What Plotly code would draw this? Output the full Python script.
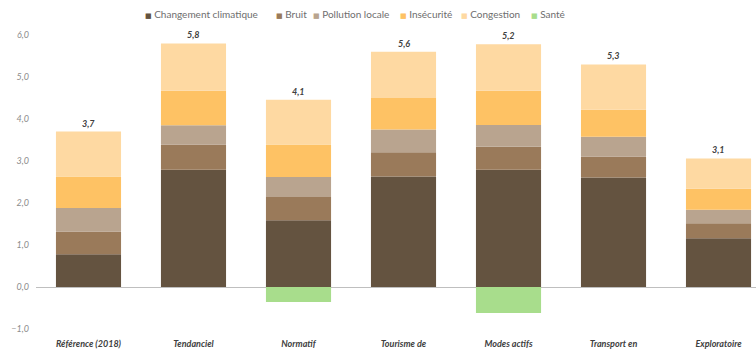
import plotly.graph_objects as go

categories = ["Référence (2018)", "Tendanciel", "Normatif", "Tourisme de",
              "Modes actifs", "Transport en", "Exploratoire"]

changement_climatique = [0.78, 2.79, 1.59, 2.63, 2.79, 2.61, 1.16]
bruit = [0.54, 0.60, 0.55, 0.58, 0.55, 0.50, 0.36]
pollution_locale = [0.56, 0.46, 0.48, 0.54, 0.52, 0.47, 0.32]
insecurite = [0.75, 0.82, 0.77, 0.75, 0.81, 0.64, 0.50]
congestion = [1.07, 1.13, 1.07, 1.10, 1.11, 1.08, 0.72]
sante = [0.0, 0.0, -0.36, 0.0, -0.62, 0.0, 0.0]

series_names = ["Changement climatique", "Bruit", "Pollution locale",
                "Insécurité", "Congestion", "Santé"]
series_values = [changement_climatique, bruit, pollution_locale,
                 insecurite, congestion, sante]
series_colors = ["#645340", "#9A7A5A", "#B9A48F", "#FEC264", "#FED9A2", "#A8DD8C"]

# legend item left edges (pixels), layout only
legend_px = [143, 274, 311, 398, 459, 529]

font_family = "Lato, 'DejaVu Sans', sans-serif"
W, H = 756, 353
ML, MR, MT, MB = 36, 0, 35, 24
PW = W - ML - MR
PH = H - MT - MB

fig = go.Figure()
for name, vals, color in zip(series_names, series_values, series_colors):
    fig.add_trace(go.Bar(
        x=categories, y=vals, name=name, showlegend=False,
        marker=dict(color=color, line=dict(width=0)),
    ))

rows = list(zip(*series_values))
pos_tops = [sum(v for v in r if v > 0) for r in rows]
nets = [sum(r) for r in rows]

for cat, top, net in zip(categories, pos_tops, nets):
    fig.add_annotation(
        x=cat, y=top, text=f"{net:.1f}".replace(".", ","),
        showarrow=False, yanchor="bottom", yshift=1,
        font=dict(family=font_family, size=9, color="#404040", weight="bold", style="italic"),
    )

# legend drawn as text entries along the top
for name, color, px in zip(series_names, series_colors, legend_px):
    fig.add_annotation(
        xref="paper", yref="paper",
        x=(px - ML) / PW, y=1 + (MT - 14) / PH,
        xanchor="left", yanchor="middle", showarrow=False,
        text=f"<span style='color:{color};font-size:7px'>■</span> {name}",
        font=dict(family=font_family, size=10, color="#6E6E6E"),
    )

fig.update_layout(
    width=W, height=H,
    margin=dict(l=ML, r=MR, t=MT, b=MB),
    paper_bgcolor="white", plot_bgcolor="white",
    barmode="relative", bargap=0.38,
    separators=", ",
    font=dict(family=font_family, size=9, color="#7F7F7F"),
    showlegend=False,
    xaxis=dict(
        range=[-0.5, 6.357],
        showgrid=False, showline=False, ticks="",
        tickfont=dict(family=font_family, size=9, color="#404040", weight="bold", style="italic"),
        ticklabelstandoff=8,
    ),
    yaxis=dict(
        range=[-1, 6], dtick=1, tickformat=".1f",
        showgrid=False, showline=False, ticks="",
        zeroline=True, zerolinecolor="#BFBFBF", zerolinewidth=1,
        tickfont=dict(family=font_family, size=9, color="#8C8C8C", style="italic"),
        ticklabelstandoff=6,
    ),
)

fig.write_html("out.html")
